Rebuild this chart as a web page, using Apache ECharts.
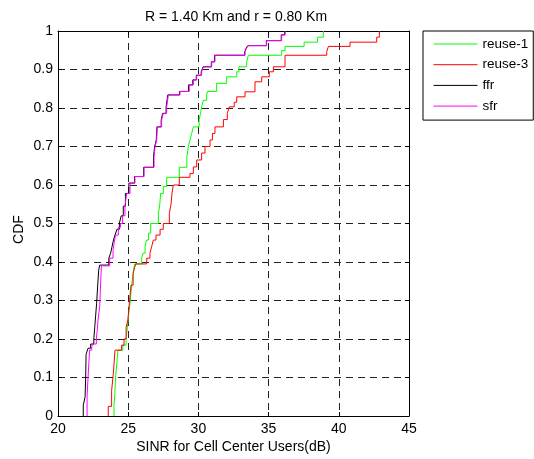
<!DOCTYPE html>
<html>
<head>
<meta charset="utf-8">
<script src="https://cdn.jsdelivr.net/npm/echarts@6/dist/echarts.min.js"></script>
<style>
  html, body { margin: 0; padding: 0; background: #fff; }
  #chart { width: 534px; height: 459px; }
</style>
</head>
<body>
<div id="chart"></div>
<script>
// Empirical CDFs of SINR for cell-centre users (sample value, CDF after the jump)
const reuse1X = [23.99, 23.99, 24.05, 24.11, 24.20, 24.27, 24.62, 24.85, 24.97, 25.05,
  25.15, 25.25, 25.35, 25.45, 25.96, 26.05, 26.20, 26.30, 26.45, 26.60,
  27.15, 27.25, 27.31, 27.50, 27.74, 28.64, 29.18, 29.28, 29.40, 29.52,
  29.64, 30.05, 30.15, 30.23, 30.35, 30.59, 30.65, 31.30, 32.01, 32.73,
  32.89, 33.44, 33.56, 35.93, 36.17, 37.53, 38.48, 38.90];
const reuse1Y = [0, 0.028, 0.06, 0.106, 0.14, 0.171, 0.184, 0.20, 0.24, 0.27,
  0.30, 0.34, 0.37, 0.395, 0.41, 0.423, 0.44, 0.457, 0.475, 0.50,
  0.526, 0.55, 0.578, 0.596, 0.62, 0.646, 0.673, 0.699, 0.717, 0.734,
  0.751, 0.769, 0.786, 0.803, 0.82, 0.834, 0.843, 0.864, 0.881, 0.894,
  0.907, 0.92, 0.937, 0.949, 0.96, 0.971, 0.984, 1.0];

const reuse3X = [23.58, 23.58, 23.82, 23.94, 24.06, 24.53, 24.70, 24.85, 24.98, 25.05,
  25.10, 25.20, 25.35, 25.45, 25.55, 26.32, 26.55, 26.67, 26.79, 26.98,
  27.27, 27.50, 27.93, 28.05, 28.12, 28.21, 28.64, 29.40, 29.64, 29.88,
  30.23, 30.47, 30.83, 31.00, 31.18, 31.78, 32.06, 32.20, 32.55, 32.73,
  33.32, 34.03, 34.51, 35.05, 35.34, 36.17, 39.14, 39.26, 40.80, 42.70, 42.89];
const reuse3Y = [0, 0.025, 0.066, 0.11, 0.171, 0.184, 0.20, 0.23, 0.25, 0.28,
  0.30, 0.34, 0.37, 0.385, 0.395, 0.41, 0.423, 0.44, 0.457, 0.47,
  0.485, 0.50, 0.526, 0.55, 0.578, 0.60, 0.62, 0.63, 0.647, 0.665,
  0.683, 0.70, 0.717, 0.734, 0.751, 0.77, 0.786, 0.803, 0.815, 0.829,
  0.842, 0.868, 0.881, 0.894, 0.907, 0.937, 0.946, 0.96, 0.971, 0.984, 1.0];

const ffrX = [21.80, 21.80, 21.93, 21.97, 22.00, 22.14, 22.33, 22.55, 22.62, 22.68,
  22.75, 22.82, 22.90, 22.97, 23.62, 23.75, 23.85, 23.95, 24.06, 24.20,
  24.37, 24.50, 24.65, 24.80, 25.05, 25.45, 26.10, 26.80, 26.88, 27.00,
  27.05, 27.35, 27.45, 27.70, 27.82, 28.65, 29.30, 29.60, 29.85, 30.20,
  30.33, 30.92, 31.15, 33.30, 33.40, 33.52, 34.84, 35.90, 36.15];
const ffrY = [0, 0.028, 0.05, 0.10, 0.16, 0.176, 0.187, 0.20, 0.232, 0.26,
  0.293, 0.335, 0.379, 0.392, 0.41, 0.423, 0.44, 0.457, 0.47, 0.485,
  0.50, 0.52, 0.545, 0.578, 0.605, 0.622, 0.646, 0.673, 0.699, 0.717,
  0.751, 0.769, 0.786, 0.803, 0.834, 0.843, 0.86, 0.873, 0.885, 0.894,
  0.907, 0.92, 0.937, 0.946, 0.955, 0.962, 0.975, 0.99, 1.0];

const sfrX = [22.07, 22.07, 22.14, 22.25, 22.40, 22.49, 22.73, 22.80, 22.85, 22.97,
  23.02, 23.09, 23.68, 23.92, 24.00, 24.10, 24.30, 24.45, 24.60, 24.77,
  24.89, 25.13, 25.48, 26.13, 26.84, 26.91, 27.03, 27.07, 27.38, 27.50,
  27.74, 27.86, 28.69, 29.35, 29.64, 29.88, 30.23, 30.35, 30.95, 31.18,
  33.32, 33.42, 33.56, 34.86, 35.93, 36.18];
const sfrY = [0, 0.05, 0.10, 0.171, 0.18, 0.187, 0.20, 0.225, 0.249, 0.284,
  0.33, 0.39, 0.41, 0.43, 0.45, 0.47, 0.49, 0.50, 0.52, 0.545,
  0.578, 0.605, 0.622, 0.646, 0.673, 0.699, 0.717, 0.751, 0.769, 0.786,
  0.803, 0.834, 0.843, 0.86, 0.873, 0.885, 0.894, 0.907, 0.92, 0.937,
  0.946, 0.955, 0.962, 0.975, 0.99, 1.0];

const seriesNames = ['reuse-1', 'reuse-3', 'ffr', 'sfr'];
const seriesColors = ['#00ff00', '#ff0000', '#000000', '#ff00ff'];
const seriesX = [reuse1X, reuse3X, ffrX, sfrX];
const seriesY = [reuse1Y, reuse3Y, ffrY, sfrY];

const xTicks = { min: 20, max: 45, interval: 5 };
const yTicks = { min: 0, max: 1, interval: 0.1 };

const FONT = 'Liberation Sans';
const gridDash = {
  show: true,
  lineStyle: { color: '#222', width: 1, type: [7, 5] }
};

const chart = echarts.init(document.getElementById('chart'), null, { renderer: 'canvas' });

chart.setOption({
  backgroundColor: '#ffffff',
  animation: false,
  textStyle: { fontFamily: FONT, color: '#000' },
  title: {
    text: 'R = 1.40 Km and r = 0.80 Km',
    left: 231,
    top: 5,
    textAlign: 'center',
    textStyle: { fontFamily: FONT, fontSize: 14, fontWeight: 'normal', color: '#000' }
  },
  legend: {
    orient: 'vertical',
    left: 423,
    top: 31,
    padding: [6, 5, 7, 10],
    itemWidth: 44,
    itemHeight: 14,
    itemGap: 6.7,
    borderColor: '#000',
    borderWidth: 1,
    borderRadius: 0,
    backgroundColor: '#fff',
    // legend keys are plain line samples, no marker
    itemStyle: { opacity: 0 },
    lineStyle: { width: 1 },
    textStyle: { fontFamily: FONT, fontSize: 13.5, color: '#000' },
    data: seriesNames
  },
  grid: {
    left: 58, right: 125, top: 31, bottom: 43,
    containLabel: false,
    outerBoundsMode: 'none'
  },
  xAxis: [{
    type: 'value',
    min: xTicks.min, max: xTicks.max, interval: xTicks.interval,
    position: 'bottom',
    name: 'SINR for Cell Center Users(dB)',
    nameLocation: 'middle',
    nameGap: 24,
    nameMoveOverlap: false,
    nameTextStyle: { fontFamily: FONT, fontSize: 14, color: '#000' },
    axisLine: { show: true, onZero: false, lineStyle: { color: '#000', width: 1 } },
    axisTick: { show: true, inside: true, length: 4, lineStyle: { color: '#000' } },
    axisLabel: { fontFamily: FONT, fontSize: 14, color: '#000', margin: 6 },
    splitLine: gridDash
  }, {
    type: 'value',
    min: xTicks.min, max: xTicks.max, interval: xTicks.interval,
    position: 'top',
    axisLine: { show: true, onZero: false, lineStyle: { color: '#000', width: 1 } },
    axisTick: { show: true, inside: true, length: 4, lineStyle: { color: '#000' } },
    axisLabel: { show: false },
    splitLine: { show: false }
  }],
  yAxis: [{
    type: 'value',
    min: yTicks.min, max: yTicks.max, interval: yTicks.interval,
    position: 'left',
    name: 'CDF',
    nameLocation: 'middle',
    nameGap: 32,
    nameMoveOverlap: false,
    nameTextStyle: { fontFamily: FONT, fontSize: 14, color: '#000', padding: [0, 12, 0, 0] },
    axisLine: { show: true, onZero: false, lineStyle: { color: '#000', width: 1 } },
    axisTick: { show: true, inside: true, length: 4, lineStyle: { color: '#000' } },
    axisLabel: { fontFamily: FONT, fontSize: 14, color: '#000', margin: 5 },
    splitLine: gridDash
  }, {
    type: 'value',
    min: yTicks.min, max: yTicks.max, interval: yTicks.interval,
    position: 'right',
    axisLine: { show: true, onZero: false, lineStyle: { color: '#000', width: 1 } },
    axisTick: { show: true, inside: true, length: 4, lineStyle: { color: '#000' } },
    axisLabel: { show: false },
    splitLine: { show: false }
  }],
  series: seriesNames.map((name, i) => ({
    name: name,
    type: 'line',
    xAxisIndex: 0,
    yAxisIndex: 0,
    step: 'end',
    symbol: 'none',
    showSymbol: false,
    color: seriesColors[i],
    lineStyle: { color: seriesColors[i], width: 1 },
    data: seriesX[i].map((x, k) => [x, seriesY[i][k]])
  }))
});
</script>
</body>
</html>
